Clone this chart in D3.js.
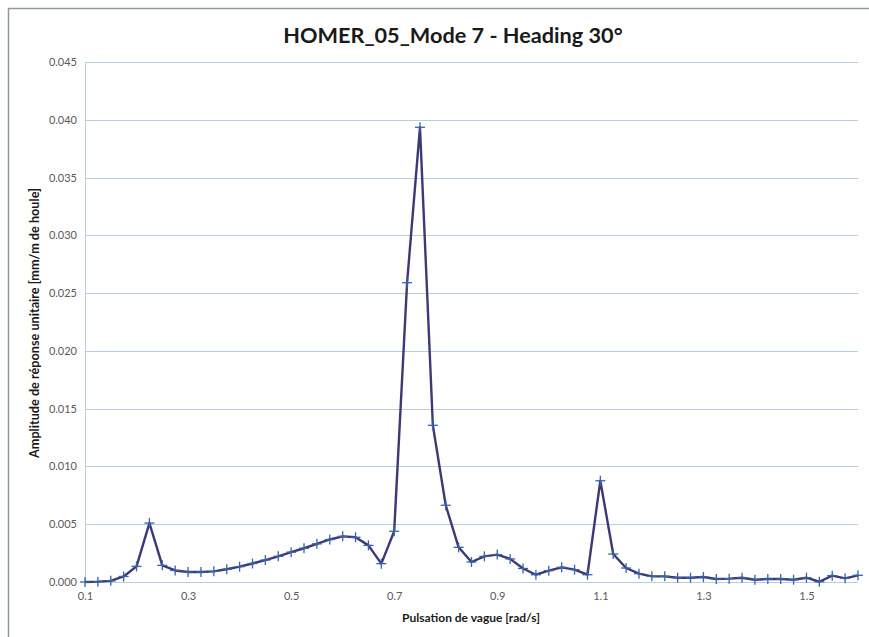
<!DOCTYPE html>
<html><head><meta charset="utf-8">
<script src="https://cdn.jsdelivr.net/npm/d3@7"></script>
<style>body{margin:0;background:#fff}svg{display:block}</style>
</head><body>
<svg id="c" width="869" height="637"></svg>
<script>
const title = "HOMER_05_Mode 7 - Heading 30°";
const xLabel = "Pulsation de vague [rad/s]";
const yLabel = "Amplitude de réponse unitaire [mm/m de houle]";
const xValues = [0.1,0.125,0.15,0.175,0.2,0.225,0.25,0.275,0.3,0.325,0.35,0.375,0.4,0.425,0.45,0.475,0.5,0.525,0.55,0.575,0.6,0.625,0.65,0.675,0.7,0.725,0.75,0.775,0.8,0.825,0.85,0.875,0.9,0.925,0.95,0.975,1.0,1.025,1.05,1.075,1.1,1.125,1.15,1.175,1.2,1.225,1.25,1.275,1.3,1.325,1.35,1.375,1.4,1.425,1.45,1.475,1.5,1.525,1.55,1.575,1.6];
const amplitudes = [0.00000,0.00003,0.00010,0.00048,0.00135,0.00510,0.00144,0.00100,0.00086,0.00086,0.00092,0.00110,0.00133,0.00160,0.00190,0.00222,0.00258,0.00292,0.00330,0.00368,0.00395,0.00387,0.00317,0.00159,0.00439,0.02590,0.03935,0.01356,0.00664,0.00300,0.00173,0.00222,0.00237,0.00200,0.00117,0.00063,0.00098,0.00127,0.00107,0.00063,0.00876,0.00242,0.00121,0.00072,0.00049,0.00049,0.00037,0.00037,0.00043,0.00026,0.00029,0.00037,0.00020,0.00026,0.00026,0.00020,0.00037,0.00002,0.00055,0.00032,0.00058];
const xTicks = [0.1,0.3,0.5,0.7,0.9,1.1,1.3,1.5];
const yTicks = [0,0.005,0.010,0.015,0.020,0.025,0.030,0.035,0.040,0.045];

const svg = d3.select("#c");
const font = "Lato, 'Open Sans', sans-serif";
// frame
svg.append("line").attr("x1",8).attr("x2",869).attr("y1",8.5).attr("y2",8.5).attr("stroke","#8c9aa0").attr("stroke-width",1.5);
svg.append("line").attr("x1",8.5).attr("x2",8.5).attr("y1",8).attr("y2",637).attr("stroke","#8c9aa0").attr("stroke-width",1.5);

const L=85, R=858, T=62, B=582;
const x = d3.scaleLinear().domain([0.1,1.6]).range([L,R]);
const y = d3.scaleLinear().domain([0,0.045]).range([B,T]);

// grid
svg.append("g").selectAll("line").data(yTicks).join("line")
  .attr("x1",L).attr("x2",R).attr("y1",d=>Math.round(y(d))+0.5).attr("y2",d=>Math.round(y(d))+0.5)
  .attr("stroke","#b9cde0").attr("stroke-width",1);
svg.append("line").attr("x1",L+0.5).attr("x2",L+0.5).attr("y1",T).attr("y2",B).attr("stroke","#b9cde0");

// y axis
const ya = svg.append("g").attr("transform",`translate(${L},0)`)
  .call(d3.axisLeft(y).tickValues(yTicks).tickFormat(d3.format(".3f")).tickSize(0).tickPadding(8));
ya.select(".domain").remove();
ya.selectAll("text").attr("font-family",font).attr("font-size",11).attr("fill","#595959");

// x axis
const xa = svg.append("g").attr("transform",`translate(0,${B})`)
  .call(d3.axisBottom(x).tickValues(xTicks).tickFormat(d3.format(".1f")).tickSize(0).tickPadding(10));
xa.select(".domain").remove();
xa.selectAll("text").attr("font-family",font).attr("font-size",11).attr("fill","#595959");

// line
const data = xValues.map((v,i)=>[v,amplitudes[i]]);
svg.append("path").datum(data)
  .attr("d", d3.line().x(d=>x(d[0])).y(d=>y(d[1])))
  .attr("fill","none").attr("stroke","#3d3876").attr("stroke-width",2.4).attr("stroke-linejoin","round");
// markers "+"
const m = svg.append("g").selectAll("g").data(data).join("g")
  .attr("transform",d=>`translate(${x(d[0])},${y(d[1])})`);
m.append("line").attr("x1",-5).attr("x2",5).attr("y1",0).attr("y2",0).attr("stroke","#3565a8").attr("stroke-width",1.3);
m.append("line").attr("x1",0).attr("x2",0).attr("y1",-5).attr("y2",5).attr("stroke","#3565a8").attr("stroke-width",1.3);

// titles
svg.append("text").attr("x",453).attr("y",43).attr("text-anchor","middle")
  .attr("font-family",font).attr("font-weight","bold").attr("font-size",21.7).attr("fill","#1a1a1a").text(title);
svg.append("text").attr("x",471).attr("y",622).attr("text-anchor","middle")
  .attr("font-family",font).attr("font-weight","bold").attr("font-size",12).attr("fill","#1a1a1a").text(xLabel);
svg.append("text").attr("transform","translate(39,323) rotate(-90)").attr("text-anchor","middle")
  .attr("font-family",font).attr("font-weight","bold").attr("font-size",12.7).attr("fill","#1a1a1a").text(yLabel);
</script>
</body></html>
